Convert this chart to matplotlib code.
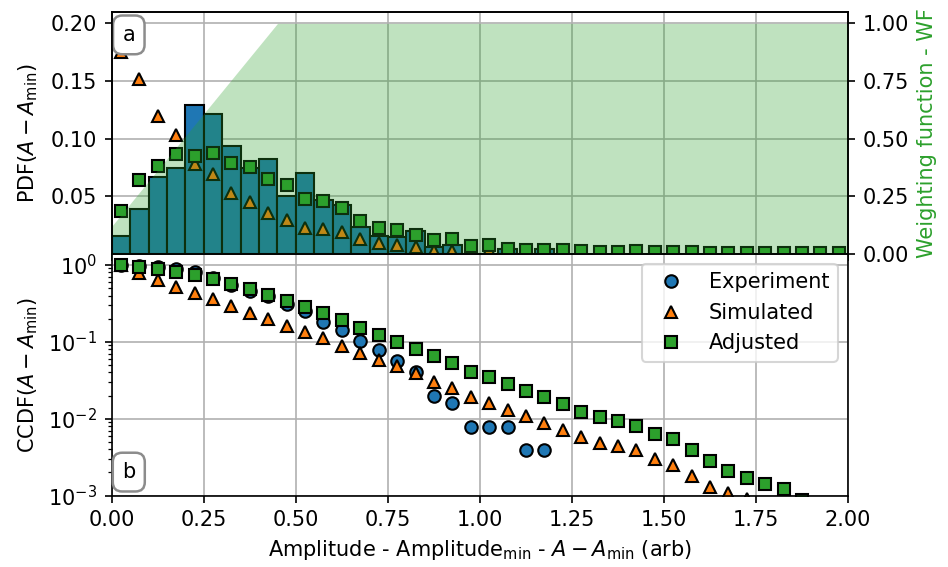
import matplotlib.pyplot as plt
import numpy as np

plt.rcParams['font.size'] = 10

# histogram bins of A - A_min (width 0.05)
bin_width = 0.05
centers = np.round(np.arange(0.025, 2.0, bin_width), 3)

# experiment histogram (PDF per bin) and its CCDF
exp_pdf = [0.0157, 0.0390, 0.0665, 0.0743, 0.1290, 0.1210, 0.0935, 0.0743,
           0.0819, 0.0505, 0.0703, 0.0470, 0.0420, 0.0229, 0.0157, 0.0142,
           0.0200, 0.0055, 0.0078, 0.0, 0.0, 0.0039, 0.0, 0.0039]
exp_ccdf = [1.0, 0.984, 0.945, 0.88, 0.80, 0.68, 0.555, 0.46, 0.39, 0.31,
            0.25, 0.18, 0.144, 0.104, 0.079, 0.056, 0.040, 0.0195, 0.0158,
            0.0079, 0.0079, 0.0079, 0.0039, 0.0039]

# simulated distribution
sim_pdf = [0.175, 0.152, 0.120, 0.103, 0.078, 0.069, 0.053, 0.045, 0.035, 0.029,
           0.022, 0.0215, 0.0186, 0.0130, 0.0092, 0.0080, 0.0060, 0.0026, 0.0026, 0.0030,
           0.0029, 0.0026, 0.0022, 0.0019, 0.0017, 0.0014, 0.0010, 0.0008, 0.0008, 0.0006,
           0.0006, 0.0007, 0.0005, 0.0003, 0.0002, 0.0002, 0.0001, 0.0001, 0.0001, 0.0001]
sim_ccdf = [1.0, 0.79, 0.64, 0.52, 0.43, 0.36, 0.29, 0.237, 0.198, 0.162,
            0.133, 0.111, 0.089, 0.071, 0.058, 0.049, 0.039, 0.030, 0.025, 0.019,
            0.016, 0.0128, 0.0107, 0.0088, 0.0071, 0.0058, 0.0049, 0.0044, 0.0039, 0.0030,
            0.0025, 0.0018, 0.0013, 0.00107, 0.0009, 0.0007, 0.0005, 0.0004, 0.0003, 0.0002]

# adjusted (weighted) distribution
adj_pdf = [0.0368, 0.0642, 0.0760, 0.0868, 0.0848, 0.0877, 0.0790, 0.0752, 0.0650, 0.0600,
           0.0476, 0.0462, 0.0395, 0.0287, 0.0220, 0.0209, 0.0163, 0.0119, 0.0128, 0.0064,
           0.0076, 0.0044, 0.0035, 0.0035, 0.0033, 0.0020, 0.0013, 0.0016, 0.0020, 0.0012,
           0.0016, 0.0014, 0.0009, 0.0005, 0.0004, 0.0004, 0.0004, 0.0004, 0.0003, 0.0003]
adj_ccdf = [1.0, 0.94, 0.88, 0.81, 0.74, 0.65, 0.56, 0.48, 0.41, 0.34,
            0.286, 0.24, 0.192, 0.15, 0.124, 0.10, 0.081, 0.065, 0.053, 0.041,
            0.035, 0.028, 0.023, 0.019, 0.0154, 0.0123, 0.0105, 0.0093, 0.0081, 0.0064,
            0.0054, 0.0039, 0.0028, 0.0021, 0.0017, 0.0014, 0.0012, 0.00088, 0.0007, 0.0004]

# weighting function knots
wf_x = [0.0, 0.45, 2.0]
wf_y = [0.12, 1.0, 1.0]

fig, (ax1, ax2) = plt.subplots(2, 1, sharex=True, figsize=(6.32, 3.78), dpi=150)
fig.subplots_adjust(left=0.118, right=0.8945, top=0.979, bottom=0.126, hspace=0)

panel_box = dict(boxstyle='round,pad=0.45', fc='w', ec='0.55', lw=1.2)

# top: PDFs
ax1.set_axisbelow(True)
ax1.grid(True)
ax1.bar(centers[:len(exp_pdf)], exp_pdf, width=bin_width, color='C0', edgecolor='k', zorder=2)
ax1.plot(centers, sim_pdf, '^', color='C1', mec='k', zorder=3)
ax1.plot(centers, adj_pdf, 's', color='C2', mec='k', zorder=3)
ax1.set_ylim(0, 0.21)
ax1.set_yticks([0.05, 0.10, 0.15, 0.20])
ax1.set_ylabel(r'PDF($A - A_\mathrm{min}$)')
ax1.text(0.023, 0.905, 'a', transform=ax1.transAxes, ha='center', va='center', zorder=6,
         bbox=panel_box)

wf = ax1.twinx()
wf.fill_between(wf_x, 0, wf_y, color='C2', alpha=0.3, lw=0)
wf.set_ylim(0, 1.05)
wf.set_yticks([0, 0.25, 0.5, 0.75, 1.0])
wf.set_ylabel('Weighting function - WF', color='C2')

# bottom: CCDFs
ax2.plot(centers[:len(exp_ccdf)], exp_ccdf, 'o', color='C0', mec='k', label='Experiment')
ax2.plot(centers, sim_ccdf, '^', color='C1', mec='k', label='Simulated')
ax2.plot(centers, adj_ccdf, 's', color='C2', mec='k', label='Adjusted')
ax2.set_yscale('log')
ax2.set_ylim(1e-3, 1.4)
ax2.set_xlim(0, 2)
ax2.set_xticks(np.arange(0, 2.01, 0.25))
ax2.grid(True)
ax2.legend(loc='upper right')
ax2.set_ylabel(r'CCDF($A - A_\mathrm{min}$)')
ax2.set_xlabel(r'Amplitude - Amplitude$_\mathrm{min}$ - $A - A_\mathrm{min}$ (arb)')
ax2.text(0.023, 0.097, 'b', transform=ax2.transAxes, ha='center', va='center', zorder=6,
         bbox=panel_box)

fig.align_ylabels([ax1, ax2])
fig.savefig('out.png', dpi=150)
